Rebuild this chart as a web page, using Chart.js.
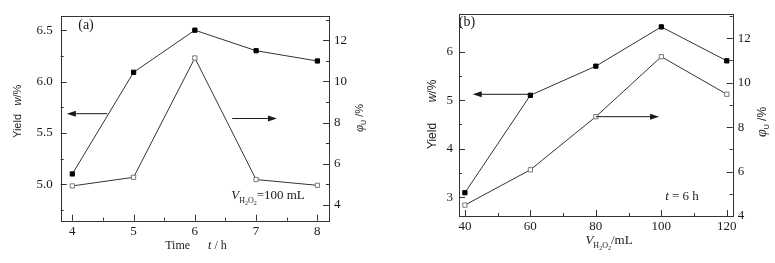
<!DOCTYPE html>
<html><head><meta charset="utf-8">
<script src="https://cdn.jsdelivr.net/npm/chart.js@4"></script>
<style>
body{margin:0;background:#fff;width:775px;height:263px;position:relative;overflow:hidden}
canvas{position:absolute;top:0}
#chartA{left:0}
#chartB{left:385px}
</style></head><body>
<canvas id="chartA" width="385" height="263"></canvas>
<canvas id="chartB" width="390" height="263"></canvas>
<script>
// panel (a): reaction time
const timeH = [4, 5, 6, 7, 8];
const yieldTime = [5.1, 6.09, 6.5, 6.3, 6.2];
const phiTime = [4.92, 5.34, 11.14, 5.23, 4.95];
// panel (b): H2O2 volume
const volumeML = [40, 60, 80, 100, 120];
const yieldVol = [3.09, 5.1, 5.7, 6.51, 5.81];
const phiVol = [4.49, 6.08, 8.47, 11.17, 9.48];

// tick values (major, minor)
const xTicksA = [4, 5, 6, 7, 8], xMinorA = [4.5, 5.5, 6.5, 7.5];
const yTicksA = [5.0, 5.5, 6.0, 6.5], yMinorA = [4.75, 5.25, 5.75, 6.25];
const xTicksB = [40, 60, 80, 100, 120], xMinorB = [50, 70, 90, 110];
const yTicksB = [3, 4, 5, 6], yMinorB = [3.5, 4.5, 5.5, 6.5];
const y2Ticks = [4, 6, 8, 10, 12], y2Minor = [5, 7, 9, 11, 13];

const SERIF = '"Liberation Serif", "Times New Roman", serif';
const SANS = '"Liberation Sans", Arial, sans-serif';
const INK = '#1a1a1a';

function pts(xs, ys) { return xs.map((x, i) => ({ x: x, y: ys[i] })); }

// draw runs of text with mixed styles, centred on (x, y), optional rotation
function richText(ctx, x, y, runs, rotate) {
  ctx.save();
  ctx.translate(x, y);
  if (rotate) ctx.rotate(-Math.PI / 2);
  let w = 0;
  runs.forEach(r => { ctx.font = r.f; w += ctx.measureText(r.t).width; });
  let cx = -w / 2;
  ctx.fillStyle = INK;
  ctx.textBaseline = 'alphabetic';
  ctx.textAlign = 'left';
  runs.forEach(r => {
    ctx.font = r.f;
    ctx.fillText(r.t, cx, r.dy || 0);
    cx += ctx.measureText(r.t).width;
  });
  ctx.restore();
}

function arrow(ctx, x1, y1, x2, y2) {
  const dir = Math.sign(x2 - x1);
  ctx.save();
  ctx.strokeStyle = INK; ctx.fillStyle = INK; ctx.lineWidth = 1;
  ctx.beginPath(); ctx.moveTo(x1, y1); ctx.lineTo(x2 - dir * 6, y2); ctx.stroke();
  ctx.beginPath();
  ctx.moveTo(x2, y2); ctx.lineTo(x2 - dir * 9, y2 - 3); ctx.lineTo(x2 - dir * 9, y2 + 3);
  ctx.closePath(); ctx.fill();
  ctx.restore();
}

const framePlugin = {
  id: 'frame',
  afterDraw(chart, args, opts) {
    const ctx = chart.ctx, a = chart.chartArea, s = chart.scales;
    ctx.save();
    ctx.strokeStyle = '#333'; ctx.lineWidth = 1;
    ctx.strokeRect(Math.round(a.left) + 0.5, Math.round(a.top) + 0.5,
      Math.round(a.right - a.left), Math.round(a.bottom - a.top));
    ctx.beginPath();
    const tick = (vals, len, scale, side) => vals.forEach(v => {
      const p = Math.round(scale.getPixelForValue(v)) + 0.5;
      if (side === 'b') { ctx.moveTo(p, a.bottom); ctx.lineTo(p, a.bottom - len); }
      if (side === 'l') { ctx.moveTo(a.left, p); ctx.lineTo(a.left + len, p); }
      if (side === 'r') { ctx.moveTo(a.right, p); ctx.lineTo(a.right - len, p); }
    });
    tick(opts.xMajor, 6, s.x, 'b'); tick(opts.xMinor, 3, s.x, 'b');
    tick(opts.yMajor, 6, s.y, 'l'); tick(opts.yMinor, 3, s.y, 'l');
    tick(y2Ticks, 6, s.y2, 'r'); tick(y2Minor, 3, s.y2, 'r');
    ctx.stroke();
    ctx.restore();
    // arrows given in data units
    opts.arrows.forEach(ar => {
      const sy = s[ar.axis];
      arrow(ctx, s.x.getPixelForValue(ar.from), sy.getPixelForValue(ar.y),
        s.x.getPixelForValue(ar.to), sy.getPixelForValue(ar.y));
    });
    opts.texts(ctx, a);
  }
};

function makeChart(id, p) {
  return new Chart(document.getElementById(id), {
    type: 'line',
    data: {
      datasets: [{
        data: pts(p.xs, p.yield), yAxisID: 'y',
        borderColor: '#333', borderWidth: 1, pointStyle: 'rect',
        pointRadius: 3, backgroundColor: '#000', pointBorderColor: '#000'
      }, {
        data: pts(p.xs, p.phi), yAxisID: 'y2',
        borderColor: '#333', borderWidth: 1, pointStyle: 'rect',
        pointRadius: 3, backgroundColor: '#fff', pointBorderColor: '#777', pointBorderWidth: 1
      }]
    },
    options: {
      responsive: false,
      animation: false,
      layout: { padding: { top: 5 } },
      plugins: {
        legend: { display: false },
        tooltip: { enabled: false },
        frame: p.frame
      },
      scales: {
        x: {
          type: 'linear', min: p.xMin, max: p.xMax,
          afterFit: sc => { sc.height = p.xAxisH; },
          afterBuildTicks: sc => { sc.ticks = p.frame.xMajor.map(v => ({ value: v })); },
          ticks: { autoSkip: false, maxRotation: 0, padding: 3, color: INK, font: { family: SERIF, size: 13 } },
          grid: { display: false, drawTicks: false }, border: { display: false }
        },
        y: {
          position: 'left', min: p.yMin, max: p.yMax,
          afterFit: sc => { sc.width = p.yAxisW; },
          afterBuildTicks: sc => { sc.ticks = p.frame.yMajor.map(v => ({ value: v })); },
          ticks: { autoSkip: false, padding: p.yPad, color: INK, font: { family: SERIF, size: 13 }, callback: p.yFmt },
          grid: { display: false, drawTicks: false }, border: { display: false }
        },
        y2: {
          position: 'right', min: p.y2Min, max: p.y2Max,
          afterFit: sc => { sc.width = p.y2AxisW; },
          afterBuildTicks: sc => { sc.ticks = y2Ticks.map(v => ({ value: v })); },
          ticks: { autoSkip: false, padding: 5, color: INK, font: { family: SERIF, size: 13 } },
          grid: { display: false, drawTicks: false }, border: { display: false }
        }
      }
    },
    plugins: [framePlugin]
  });
}

const F = 'px ' + SERIF, S = 'px ' + SANS;
const N12 = '12' + F, N13 = '13' + F, I13 = 'italic 13' + F, N8 = '8' + F, N6 = '6' + F, N14 = '14' + F;

function yieldTitle(ctx, x, yY, yW, size) {
  richText(ctx, x, yY, [{ t: 'Yield', f: size + S }], true);
  richText(ctx, x, yW, [{ t: 'w', f: 'italic ' + size + S }, { t: '/%', f: size + S }], true);
}
function phiTitle(ctx, x, y, size) {
  richText(ctx, x, y, [
    { t: 'φ', f: 'italic ' + (size + 2) + F }, { t: 'U', f: '7' + S, dy: 3 }, { t: ' /%', f: size + S }
  ], true);
}

makeChart('chartA', {
  xs: timeH, yield: yieldTime, phi: phiTime,
  xMin: 3.81, xMax: 8.19, yMin: 4.645, yMax: 6.64, y2Min: 3.23, y2Max: 13.19,
  xAxisH: 42.3, yAxisW: 60.7, y2AxisW: 56, yPad: 8,
  yFmt: v => v.toFixed(1),
  frame: {
    xMajor: xTicksA, xMinor: xMinorA, yMajor: yTicksA, yMinor: yMinorA,
    arrows: [
      { axis: 'y', y: 5.687, from: 4.57, to: 3.91 },
      { axis: 'y', y: 5.64, from: 6.61, to: 7.34 }
    ],
    texts: (ctx) => {
      richText(ctx, 86, 29, [{ t: '(a)', f: N14 }]);
      richText(ctx, 268, 199, [
        { t: 'V', f: I13 }, { t: 'H', f: N8, dy: 4 }, { t: '2', f: N6, dy: 6 },
        { t: 'O', f: N8, dy: 4 }, { t: '2', f: N6, dy: 6 }, { t: '=100 mL', f: N13 }
      ]);
      richText(ctx, 196, 249, [
        { t: 'Time', f: N12 }, { t: '      ', f: N12 }, { t: 't', f: 'italic 12' + F }, { t: ' / h', f: N12 }
      ]);
      yieldTitle(ctx, 21, 126, 95, 11);
      phiTitle(ctx, 363, 118, 11);
    }
  }
});

makeChart('chartB', {
  xs: volumeML, yield: yieldVol, phi: phiVol,
  xMin: 38.2, xMax: 121.8, yMin: 2.61, yMax: 6.78, y2Min: 4.0, y2Max: 13.1,
  xAxisH: 47, yAxisW: 74, y2AxisW: 42.3, yPad: 6,
  yFmt: v => String(v),
  frame: {
    xMajor: xTicksB, xMinor: xMinorB, yMajor: yTicksB, yMinor: yMinorB,
    arrows: [
      { axis: 'y', y: 5.12, from: 59.3, to: 42.4 },
      { axis: 'y2', y: 8.47, from: 80, to: 99.3 }
    ],
    texts: (ctx) => {
      richText(ctx, 82, 26, [{ t: '(b)', f: N14 }]);
      richText(ctx, 297, 200, [
        { t: 't', f: I13 }, { t: ' = 6 h', f: N13 }
      ]);
      richText(ctx, 224, 244, [
        { t: 'V', f: I13 }, { t: 'H', f: N8, dy: 4 }, { t: '2', f: N6, dy: 6 },
        { t: 'O', f: N8, dy: 4 }, { t: '2', f: N6, dy: 6 }, { t: '/mL', f: N13 }
      ]);
      yieldTitle(ctx, 51, 136, 91, 12);
      phiTitle(ctx, 381, 122, 12);
    }
  }
});
</script>
</body></html>
